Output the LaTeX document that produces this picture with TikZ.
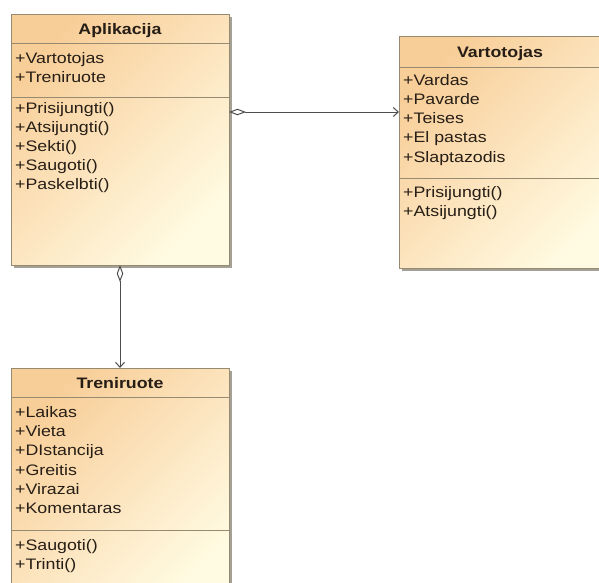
\documentclass[tikz,border=0pt]{standalone}
\usepackage{fontspec}
\setmainfont{Liberation Sans}
\newfontfamily\umlfont[FakeStretch=1.17]{Liberation Sans}
\usetikzlibrary{arrows.meta,shadows}

\definecolor{boxtop}{RGB}{248,206,152}
\definecolor{boxmid}{RGB}{252,228,190}
\definecolor{boxbot}{RGB}{255,251,226}
\definecolor{boxline}{RGB}{150,138,112}
\definecolor{shadowc}{RGB}{165,160,150}
\definecolor{txt}{RGB}{38,30,22}
\definecolor{wire}{RGB}{78,78,78}

\tikzset{
  classbox/.style={rectangle, draw=boxline, line width=0.9pt, inner sep=0pt, outer sep=0pt,
    top color=boxtop, bottom color=boxbot, middle color=boxmid, shading angle=45,
    drop shadow={shadow xshift=2.6pt, shadow yshift=-2.6pt, fill=shadowc, opacity=1}},
  sep/.style={draw=boxline, line width=0.9pt},
  member/.style={anchor=base west, inner sep=0pt, text=txt, font=\umlfont\fontsize{15.2}{18}\selectfont},
  title/.style={anchor=base, inner sep=0pt, text=txt, font=\umlfont\bfseries\fontsize{15.2}{18}\selectfont},
  wireline/.style={draw=wire, line width=1pt},
  aggr/.style={wireline, {Diamond[open, length=17pt, width=6.5pt, fill=white]}-{Straight Barb[length=5pt, width=9pt]}}
}

\begin{document}
\begin{tikzpicture}[x=1pt, y=-1pt]
  \fill[white] (0,0) rectangle (599,582);

  % Aplikacija
  \node[classbox, minimum width=218pt, minimum height=251pt] (apl) at (120,139.5) {};
  \draw[sep] (apl.west |- 0,43) -- (apl.east |- 0,43);
  \draw[sep] (apl.west |- 0,97) -- (apl.east |- 0,97);
  \node[title] (apl-t) at (120,34) {Aplikacija};
  \node[member] (apl-a1) at (15,63) {+Vartotojas};
  \node[member] (apl-a2) at (15,82) {+Treniruote};
  \node[member] (apl-m1) at (15,113) {+Prisijungti()};
  \node[member] (apl-m2) at (15,132) {+Atsijungti()};
  \node[member] (apl-m3) at (15,151) {+Sekti()};
  \node[member] (apl-m4) at (15,170) {+Saugoti()};
  \node[member] (apl-m5) at (15,189) {+Paskelbti()};

  % Vartotojas (runs past the right edge)
  \node[classbox, minimum width=222pt, minimum height=232pt] (var) at (510,152) {};
  \draw[sep] (var.west |- 0,67) -- (var.east |- 0,67);
  \draw[sep] (var.west |- 0,178) -- (var.east |- 0,178);
  \node[title] (var-t) at (500,57) {Vartotojas};
  \node[member] (var-a1) at (403,85) {+Vardas};
  \node[member] (var-a2) at (403,104.3) {+Pavarde};
  \node[member] (var-a3) at (403,123.6) {+Teises};
  \node[member] (var-a4) at (403,142.9) {+El pastas};
  \node[member] (var-a5) at (403,162.2) {+Slaptazodis};
  \node[member] (var-m1) at (403,197.5) {+Prisijungti()};
  \node[member] (var-m2) at (403,216.8) {+Atsijungti()};

  % Treniruote (runs past the bottom edge)
  \node[classbox, minimum width=218pt, minimum height=240pt] (tre) at (120,488) {};
  \draw[sep] (tre.west |- 0,397) -- (tre.east |- 0,397);
  \draw[sep] (tre.west |- 0,530) -- (tre.east |- 0,530);
  \node[title] (tre-t) at (120,388.3) {Treniruote};
  \node[member] (tre-a1) at (15,417.3) {+Laikas};
  \node[member] (tre-a2) at (15,436.6) {+Vieta};
  \node[member] (tre-a3) at (15,455.9) {+DIstancija};
  \node[member] (tre-a4) at (15,475.2) {+Greitis};
  \node[member] (tre-a5) at (15,494.5) {+Virazai};
  \node[member] (tre-a6) at (15,513.8) {+Komentaras};
  \node[member] (tre-m1) at (15,550.5) {+Saugoti()};
  \node[member] (tre-m2) at (15,569.5) {+Trinti()};

  % Associations
  \draw[aggr] ([yshift=27.5pt]apl.east) -- ([yshift=27.5pt]apl.east -| var.west);
  \draw[aggr] (apl.south) -- (tre.north);

  % page extent
  \pgfresetboundingbox
  \useasboundingbox (0,0) rectangle (599,582);
\end{tikzpicture}
\end{document}
